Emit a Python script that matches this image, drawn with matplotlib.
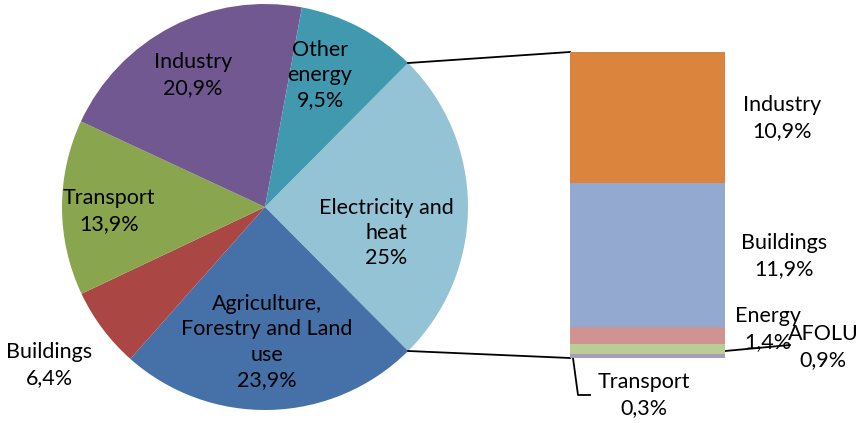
import matplotlib
matplotlib.use("Agg")
import matplotlib.pyplot as plt
from matplotlib.lines import Line2D
import numpy as np

# ---- data ----
pie_labels = ["Electricity and\nheat", "Agriculture,\nForestry and Land\nuse", "Buildings",
              "Transport", "Industry", "Other\nenergy"]
pie_values = [25.0, 23.9, 6.4, 13.9, 20.9, 9.5]
pie_value_text = ["25%", "23,9%", "6,4%", "13,9%", "20,9%", "9,5%"]
pie_colors = ["#93c3d5", "#4571a8", "#aa4744", "#89a64e", "#715890", "#4199b0"]

bar_labels = ["Transport", "AFOLU", "Energy", "Buildings", "Industry"]
bar_values = [0.3, 0.9, 1.4, 11.9, 10.9]
bar_value_text = ["0,3%", "0,9%", "1,4%", "11,9%", "10,9%"]
bar_colors = ["#a99bbd", "#b9cd96", "#d19392", "#93a9cf", "#db843d"]

plt.rcParams['font.family'] = ['Lato', 'DejaVu Sans']
FS = 15.5
LS = 1.33

W, H = 859, 423
fig = plt.figure(figsize=(W / 100, H / 100), dpi=100)

# main axes in pixel coordinates (y up)
ax = fig.add_axes([0, 0, 1, 1])

def Y(y):
    return H - y

cx, cy, r = 265, Y(207), 203
total = sum(pie_values)
start = pie_values[0] / total * 360 / 2
wedges, _ = ax.pie(pie_values, colors=pie_colors, startangle=start, counterclock=False,
                   center=(cx, cy), radius=r, frame=True,
                   wedgeprops=dict(linewidth=0))
ax.set_xlim(0, W)
ax.set_ylim(0, H)
ax.set_aspect("auto")
ax.axis("off")

# pie labels (image px positions)
pie_label_pos = [(386, 233), (267, 342), (49, 365), (109, 211), (193, 75), (320, 75)]
for lab, vt, (px, py) in zip(pie_labels, pie_value_text, pie_label_pos):
    ax.text(px, Y(py), lab + "\n" + vt, ha="center", va="center", fontsize=FS,
            linespacing=LS, color="black")

# bar of the "Electricity and heat" slice
bx0, bx1, by_top, by_bot = 570, 725, 52, 358
bax = fig.add_axes([bx0 / W, (H - by_bot) / H, (bx1 - bx0) / W, (by_bot - by_top) / H])
bax.set_xlim(0, 1)
bax.set_ylim(0, sum(bar_values))
bax.axis("off")
bottom = 0
for v, c in zip(bar_values, bar_colors):
    bax.bar(0.5, v, width=1, bottom=bottom, color=c, linewidth=0)
    bottom += v

# connector lines from the pie wedge edges to the bar corners
w0 = wedges[0]
for ang, by in [(w0.theta2, by_top), (w0.theta1, by_bot)]:
    a = np.deg2rad(ang)
    x0, y0 = cx + r * np.cos(a), cy + r * np.sin(a)
    ax.add_line(Line2D([x0, bx0], [y0, Y(by)], color="black", lw=1.3))

# bar labels
bar_label_pos = [(644, 395), (823, 347), (768, 329), (784, 256), (782, 118)]
for lab, vt, (px, py) in zip(bar_labels, bar_value_text, bar_label_pos):
    ax.text(px, Y(py), lab + "\n" + vt, ha="center", va="center", fontsize=FS,
            linespacing=LS, color="black", zorder=3)

# leader lines
ax.add_line(Line2D([573, 578, 590], [Y(358), Y(395), Y(395)], color="black", lw=1.3))
ax.add_line(Line2D([725, 790], [Y(351), Y(345)], color="black", lw=1.3, zorder=4))

fig.savefig("out.png", dpi=100)
